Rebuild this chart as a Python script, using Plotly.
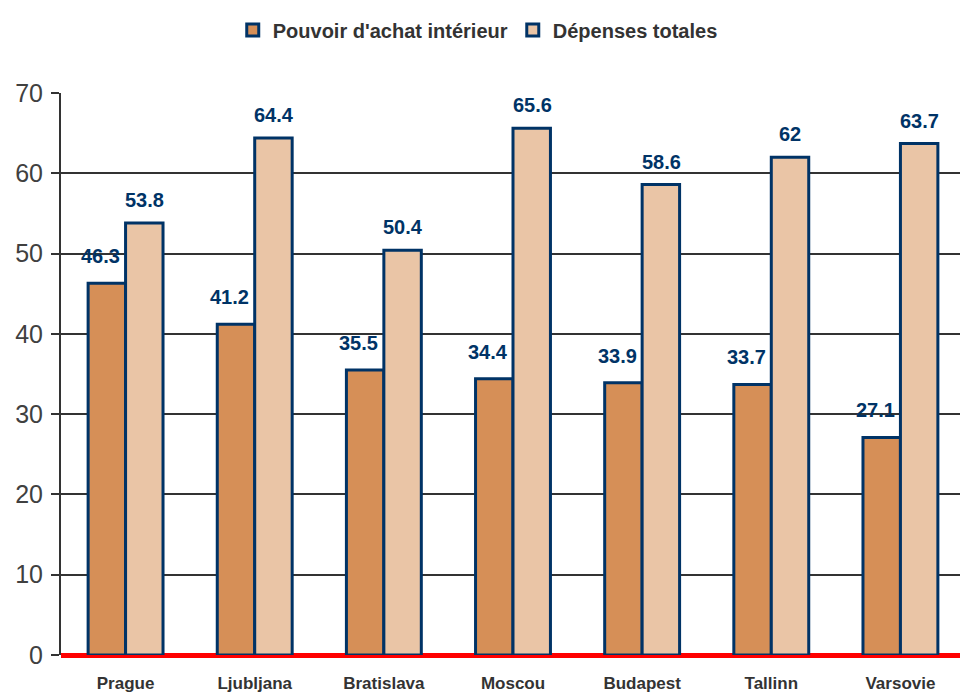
import plotly.graph_objects as go

categories = ["Prague", "Ljubljana", "Bratislava", "Moscou", "Budapest", "Tallinn", "Varsovie"]
pouvoir = [46.3, 41.2, 35.5, 34.4, 33.9, 33.7, 27.1]
depenses = [53.8, 64.4, 50.4, 65.6, 58.6, 62, 63.7]
series_names = ["Pouvoir d'achat intérieur", "Dépenses totales"]

font_family = "Liberation Sans, Arial, sans-serif"
label_font = dict(family=font_family, size=20, color="#003366")

fig = go.Figure()
fig.add_trace(go.Bar(
    x=categories, y=pouvoir, name=f"<b>{series_names[0]}</b>",
    marker=dict(color="#D68F57", line=dict(color="#003366", width=3)),
))
fig.add_trace(go.Bar(
    x=categories, y=depenses, name=f"<b>{series_names[1]}</b>",
    marker=dict(color="#EAC5A6", line=dict(color="#003366", width=3)),
))

# value labels, placed above each bar of the group
for vals, dx, dy in ((pouvoir, -25, 27), (depenses, 19, 23)):
    for c, v in zip(categories, vals):
        fig.add_annotation(
            x=c, y=v, xref="x", yref="y", text=f"<b>{v:g}</b>",
            showarrow=False, xshift=dx, yshift=dy, font=label_font,
            xanchor="center", yanchor="middle",
        )

fig.update_layout(
    width=960, height=687,
    margin=dict(l=53, r=3, t=85, b=40, autoexpand=False),
    paper_bgcolor="white", plot_bgcolor="white",
    barmode="group", bargap=0.42, bargroupgap=0,
    font=dict(family=font_family, color="#333333"),
    legend=dict(
        orientation="h", x=0.461, xanchor="center", y=1.112, yanchor="middle",
        font=dict(size=20, color="#333333", family=font_family),
        itemwidth=30, traceorder="normal",
    ),
    xaxis=dict(
        tickfont=dict(size=17, color="#333333", family=font_family),
        tickvals=categories, ticktext=[f"<b>{c}</b>" for c in categories],
        showline=False, ticks="", ticklabelstandoff=16,
    ),
    yaxis=dict(
        range=[0, 70], dtick=10, tickfont=dict(size=25, color="#404040", family=font_family),
        showgrid=True, gridcolor="#333333", gridwidth=1.5,
        showline=True, linecolor="#333333", linewidth=2,
        ticks="outside", ticklen=8, tickcolor="#333333", tickwidth=1.5,
        ticklabelstandoff=3,
        zeroline=True, zerolinecolor="#FF0000", zerolinewidth=5,
    ),
)

fig.write_html("out.html")
